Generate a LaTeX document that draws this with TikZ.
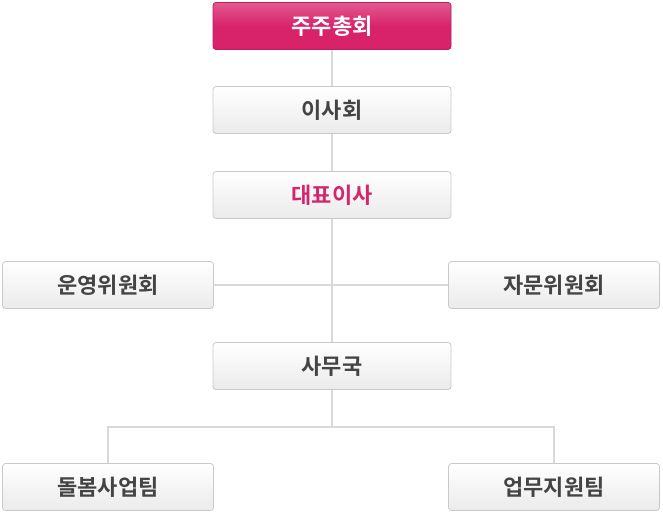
\documentclass[tikz,border=0pt]{standalone}
\usepackage{fontspec}
\newfontfamily\kr{Noto Sans CJK KR}[BoldFont={* Bold}]
\definecolor{pinkbox}{HTML}{D8236A}
\definecolor{pinktxt}{HTML}{D6256E}
\definecolor{greytxt}{HTML}{444444}
\definecolor{linegrey}{HTML}{D9D9D9}
\definecolor{boxedge}{HTML}{C9C9C9}
\begin{document}
\begin{tikzpicture}[x=1pt,y=-1pt,
    orgbox/.style={draw=boxedge,line width=0.8pt,rounded corners=3pt,top color=white,bottom color=black!8,
      minimum width=238pt,minimum height=47pt,inner sep=0pt,font=\kr\bfseries\fontsize{22}{26}\selectfont,text=greytxt},
    topbox/.style={orgbox,draw=pinkbox!85!black,top color=pinkbox!75!white,bottom color=pinkbox,middle color=pinkbox,text=white},
    link/.style={draw=linegrey,line width=2.5pt}]
    \useasboundingbox (0,0) rectangle (663,516);
    
    \node[topbox] (S) at (332,26) {주주총회};
    \node[orgbox] (B) at (332,110) {이사회};
    \node[orgbox,text=pinktxt] (C) at (332,195) {대표이사};
    \node[orgbox,minimum width=211pt] (O) at (108,285) {운영위원회};
    \node[orgbox,minimum width=211pt] (A) at (554,285) {자문위원회};
    \node[orgbox] (K) at (332,366) {사무국};
    \node[orgbox,minimum width=211pt] (T1) at (108,487) {돌봄사업팀};
    \node[orgbox,minimum width=211pt] (T2) at (554,487) {업무지원팀};
    \coordinate (J2) at (332,427);
    
    \draw[link] (S) -- (B);
    \draw[link] (B) -- (C);
    \draw[link] (C) -- (K);
    \draw[link] (O) -- (A);
    \draw[link] (K) -- (J2);
    \draw[link] (T1.north) |- (J2) -| (T2.north);
    
\end{tikzpicture}
\end{document}
